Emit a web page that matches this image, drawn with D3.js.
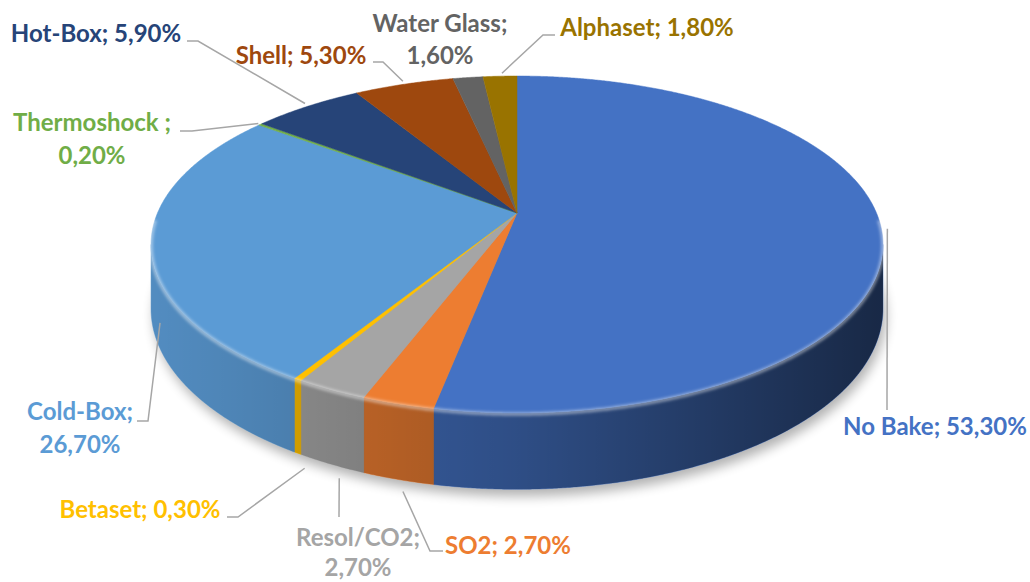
<!DOCTYPE html>
<html>
<head>
<meta charset="utf-8">
<script src="https://cdn.jsdelivr.net/npm/d3@7"></script>
<style>
  body { margin: 0; background: #fff; }
  text { font-family: Lato, "Open Sans", sans-serif; font-weight: 700; font-size: 24px; }
</style>
</head>
<body>
<svg id="chart" width="1030" height="582"></svg>
<script>
// data
var categories = ["No Bake", "SO2", "Resol/CO2", "Betaset", "Cold-Box", "Thermoshock ", "Hot-Box", "Shell", "Water Glass", "Alphaset"];
var values = [53.3, 2.7, 2.7, 0.3, 26.7, 0.2, 5.9, 5.3, 1.6, 1.8];
var valueLabels = ["53,30%", "2,70%", "2,70%", "0,30%", "26,70%", "0,20%", "5,90%", "5,30%", "1,60%", "1,80%"];
var colors = ["#4472C4", "#ED7D31", "#A5A5A5", "#FFC000", "#5B9BD5", "#70AD47", "#264478", "#9E480E", "#636363", "#997300"];

// label placement (layout only)
var labelLayout = {
  "No Bake":      { x: 935, y: [435],      knee: [[887, 410]],            rim: 0, off: [6, 0] },
  "SO2":          { x: 508, y: [554],      knee: [[443, 551], [430, 551]], rim: 1, off: [5, 12] },
  "Resol/CO2":    { x: 358, y: [546, 576], knee: [[339, 517]],            rim: 1, off: [8, 14] },
  "Betaset":      { x: 140, y: [518],      knee: [[227, 517], [238, 517]], rim: 1, off: [7, 15] },
  "Cold-Box":     { x: 80,  y: [420, 453], knee: [[137, 421], [148, 421]], rim: 1, off: [9, 14] },
  "Thermoshock ": { x: 92,  y: [131, 164], knee: [[180, 131], [192, 131]], rim: 0, off: [-2, -1] },
  "Hot-Box":      { x: 96,  y: [42],       knee: [[187, 41], [198, 41]],   rim: 0, off: [-2, -3] },
  "Shell":        { x: 301, y: [64],       knee: [[373, 62], [383, 62]],   rim: 0, off: [-1, -3] },
  "Water Glass":  { x: 440, y: [32, 64],   knee: null },
  "Alphaset":     { x: 647, y: [36],       knee: [[555, 35], [543, 35]],   rim: 0, off: [2, -3] }
};
var labelColors = { "Resol/CO2": "#A5A5A5" };

// pie geometry (perspective disc)
var cx = 517, cy = 213, A = 359.5, B = 162.6, K = 0.187, H = 62;

function proj(theta, z) {
  var u = Math.sin(theta), v = -Math.cos(theta), d = 1 - K * v;
  return [cx + A * u / d, cy + (B * v + H * z) / d];
}
function arcPts(a0, a1, z) {
  var n = Math.max(2, Math.ceil((a1 - a0) / 0.005)), pts = [];
  for (var i = 0; i <= n; i++) pts.push(proj(a0 + (a1 - a0) * i / n, z));
  return pts;
}

var svg = d3.select("#chart");
var defs = svg.append("defs");
defs.append("filter").attr("id", "blur6").attr("x", "-20%").attr("y", "-20%").attr("width", "140%").attr("height", "140%")
  .append("feGaussianBlur").attr("stdDeviation", 6);
defs.append("filter").attr("id", "blur2")
  .append("feGaussianBlur").attr("stdDeviation", 1.6);
var grad = defs.append("linearGradient").attr("id", "wallShade")
  .attr("gradientUnits", "userSpaceOnUse").attr("x1", cx - A).attr("x2", cx + A).attr("y1", 0).attr("y2", 0);
grad.append("stop").attr("offset", 0).attr("stop-color", "#000").attr("stop-opacity", 0.1);
grad.append("stop").attr("offset", 0.5).attr("stop-color", "#000").attr("stop-opacity", 0.32);
grad.append("stop").attr("offset", 1).attr("stop-color", "#000").attr("stop-opacity", 0.64);

var pie = d3.pie().sort(null).startAngle(0).endAngle(2 * Math.PI);
var arcs = pie(values);
var line = d3.line();

// shadow
svg.append("path")
  .attr("d", line(arcPts(0, 2 * Math.PI, 1)) + "Z")
  .attr("transform", "translate(3,7)")
  .attr("fill", "#000").attr("opacity", 0.3)
  .attr("filter", "url(#blur6)");

// walls (visible front part only)
var vis0 = Math.acos(-K), vis1 = 2 * Math.PI - vis0;
var walls = svg.append("g");
arcs.forEach(function (a, i) {
  var a0 = Math.max(a.startAngle, vis0), a1 = Math.min(a.endAngle, vis1);
  if (a1 <= a0) return;
  var pts = arcPts(a0, a1, 0).concat(arcPts(a0, a1, 1).reverse());
  walls.append("path").attr("d", line(pts) + "Z")
    .attr("fill", colors[i]).attr("stroke", colors[i]).attr("stroke-width", 0.5);
});
var wallAll = arcPts(vis0, vis1, 0).concat(arcPts(vis0, vis1, 1).reverse());
svg.append("path").attr("d", line(wallAll) + "Z").attr("fill", "url(#wallShade)");

// top faces
var tops = svg.append("g");
arcs.forEach(function (a, i) {
  var pts = [[cx, cy]].concat(arcPts(a.startAngle, a.endAngle, 0));
  tops.append("path").attr("d", line(pts) + "Z")
    .attr("fill", colors[i]).attr("stroke", colors[i]).attr("stroke-width", 0.5)
    .attr("stroke-linejoin", "round");
});

// bevel highlight along the front rim
svg.append("path")
  .attr("d", line(arcPts(vis0 - 0.15, vis1 + 0.15, 0)))
  .attr("transform", "translate(0,1)")
  .attr("fill", "none").attr("stroke", "#fff").attr("stroke-opacity", 0.45)
  .attr("stroke-width", 3.5).attr("filter", "url(#blur2)");

// leader lines
var leaders = svg.append("g");
arcs.forEach(function (a, i) {
  var lay = labelLayout[categories[i]];
  if (!lay.knee) return;
  var mid = (a.startAngle + a.endAngle) / 2;
  var p = proj(mid, lay.rim);
  var start = [p[0] + lay.off[0], p[1] + lay.off[1]];
  leaders.append("path")
    .attr("d", line(lay.knee.concat([start])))
    .attr("fill", "none").attr("stroke", "#A6A6A6").attr("stroke-width", 1.5);
});

// labels
var labels = svg.append("g");
categories.forEach(function (c, i) {
  var lay = labelLayout[c];
  var lines = lay.y.length > 1 ? [c + ";", valueLabels[i]] : [c + "; " + valueLabels[i]];
  var t = labels.append("text").attr("text-anchor", "middle")
    .attr("fill", labelColors[c] || colors[i]);
  lines.forEach(function (s, j) {
    t.append("tspan").attr("x", lay.x).attr("y", lay.y[j]).text(s);
  });
});
</script>
</body>
</html>
